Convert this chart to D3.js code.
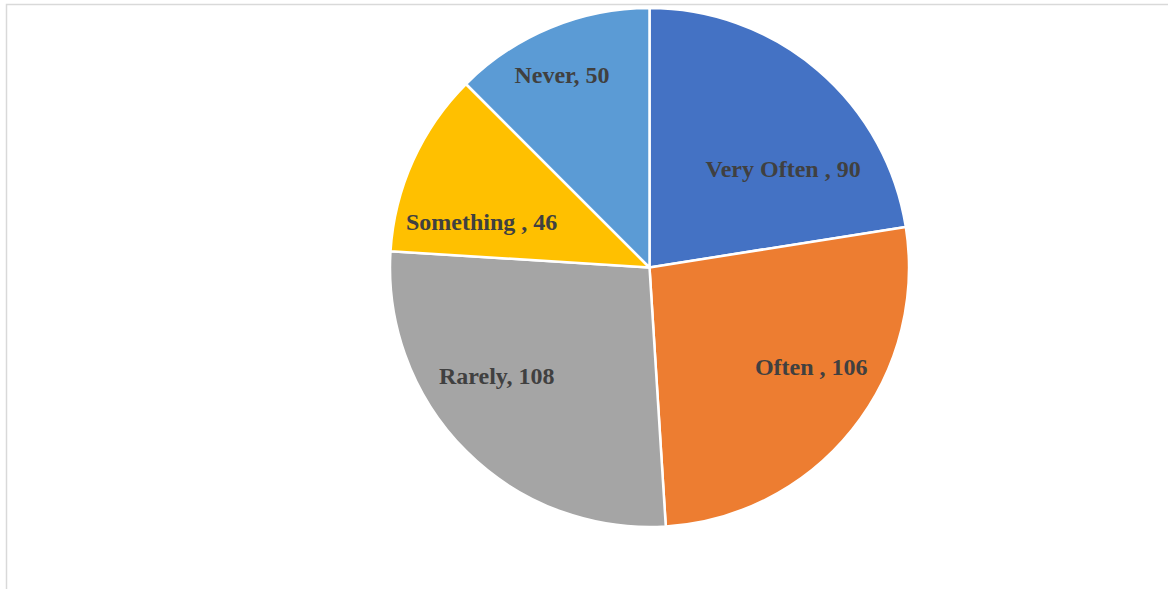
<!DOCTYPE html>
<html>
<head>
<meta charset="utf-8">
<script src="https://cdn.jsdelivr.net/npm/d3@7"></script>
<style>
  html, body { margin: 0; padding: 0; background: #fff; }
  svg { display: block; }
</style>
</head>
<body>
<svg id="chart" width="1168" height="589"></svg>
<script>
// Survey response frequency
const categories = ["Very Often ", "Often ", "Rarely", "Something ", "Never"];
const counts = [90, 106, 108, 46, 50];
const colors = ["#4472C4", "#ED7D31", "#A5A5A5", "#FFC000", "#5B9BD5"];

// Label placement tweaks (px) relative to each slice's label centroid
const labelNudges = [[19, 44], [24, -3], [-28, -8], [-7, 35], [-20, -21]];

const width = 1168, height = 589;
const cx = 649.5, cy = 267.5, radius = 259.5;

const svg = d3.select("#chart");

// chart frame
svg.append("rect")
  .attr("x", 6.5).attr("y", 4.5)
  .attr("width", width + 10).attr("height", height + 10)
  .attr("fill", "none")
  .attr("stroke", "#d9d9d9")
  .attr("stroke-width", 1.5);

const data = categories.map((c, i) => ({ name: c, value: counts[i], color: colors[i], nudge: labelNudges[i] }));

const pie = d3.pie().value(d => d.value).sort(null);
const arcs = pie(data);

const arc = d3.arc().innerRadius(0).outerRadius(radius);
const labelArc = d3.arc().innerRadius(radius * 0.68).outerRadius(radius * 0.68);

const g = svg.append("g").attr("transform", `translate(${cx},${cy})`);

g.selectAll("path.slice")
  .data(arcs)
  .join("path")
  .attr("class", "slice")
  .attr("d", arc)
  .attr("fill", d => d.data.color)
  .attr("stroke", "#fff")
  .attr("stroke-width", 2.5)
  .attr("stroke-linejoin", "round");

g.selectAll("text.label")
  .data(arcs)
  .join("text")
  .attr("class", "label")
  .attr("x", d => labelArc.centroid(d)[0] + d.data.nudge[0])
  .attr("y", d => labelArc.centroid(d)[1] + d.data.nudge[1])
  .attr("text-anchor", "middle")
  .attr("font-family", "'Liberation Serif', 'Times New Roman', serif")
  .attr("font-weight", "bold")
  .attr("font-size", 24)
  .attr("fill", "#404040")
  .text(d => `${d.data.name}, ${d.data.value}`);
</script>
</body>
</html>
